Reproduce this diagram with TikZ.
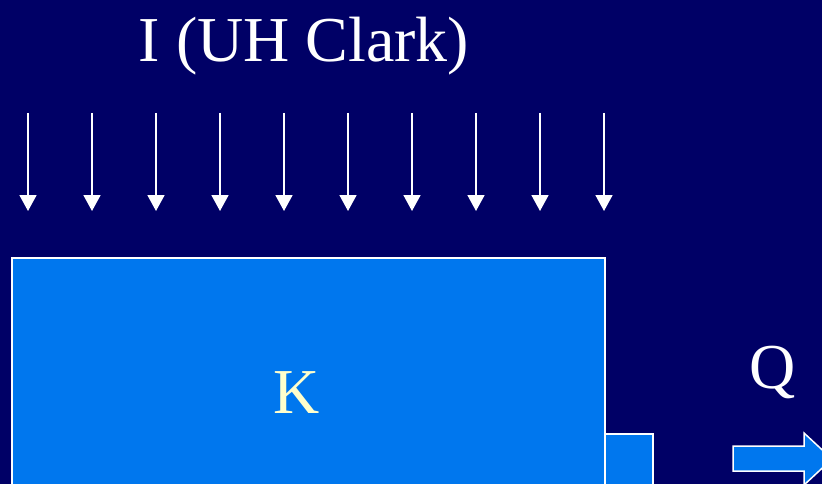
\documentclass[tikz,border=0pt]{standalone}
\usepackage{fontspec}
\setmainfont{Liberation Serif}
\definecolor{bgnavy}{HTML}{000066}
\definecolor{boxblue}{HTML}{0077EE}
\definecolor{kyellow}{HTML}{FFFFCC}
\begin{document}
\begin{tikzpicture}[x=1pt,y=-1pt,
  rain/.style={draw=white,line width=1.8pt,-{Triangle[width=17pt,length=16pt]}},
  tank/.style={draw=white,fill=boxblue,line width=1.5pt},
  bigtext/.style={text=white,font=\fontsize{64}{66}\selectfont,inner sep=0pt,anchor=base}]
\usetikzlibrary{arrows.meta}
\fill[bgnavy] (0,0) rectangle (822,484);
\useasboundingbox (0,0) rectangle (822,484);
\node[bigtext] (title) at (304,62) {I (UH Clark)};
\foreach \i in {0,...,9}{
  \coordinate (s\i) at (28+64*\i,113);
  \coordinate (e\i) at (28+64*\i,211);
  \draw[rain] (s\i) -- (e\i);
}
\draw[tank] (12,258) rectangle (605,490);
\draw[tank] (605,434) rectangle (653,490);
\node[bigtext,text=kyellow,font=\fontsize{64}{66}\selectfont] (K) at (297,413) {K};
\node[bigtext,font=\fontsize{64}{66}\selectfont] (Q) at (773,388) {Q};
\draw[tank] (733,446) -- (804,446) -- (804,433) -- (832,459) -- (804,485) -- (804,471) -- (733,471) -- cycle;
\end{tikzpicture}
\end{document}
